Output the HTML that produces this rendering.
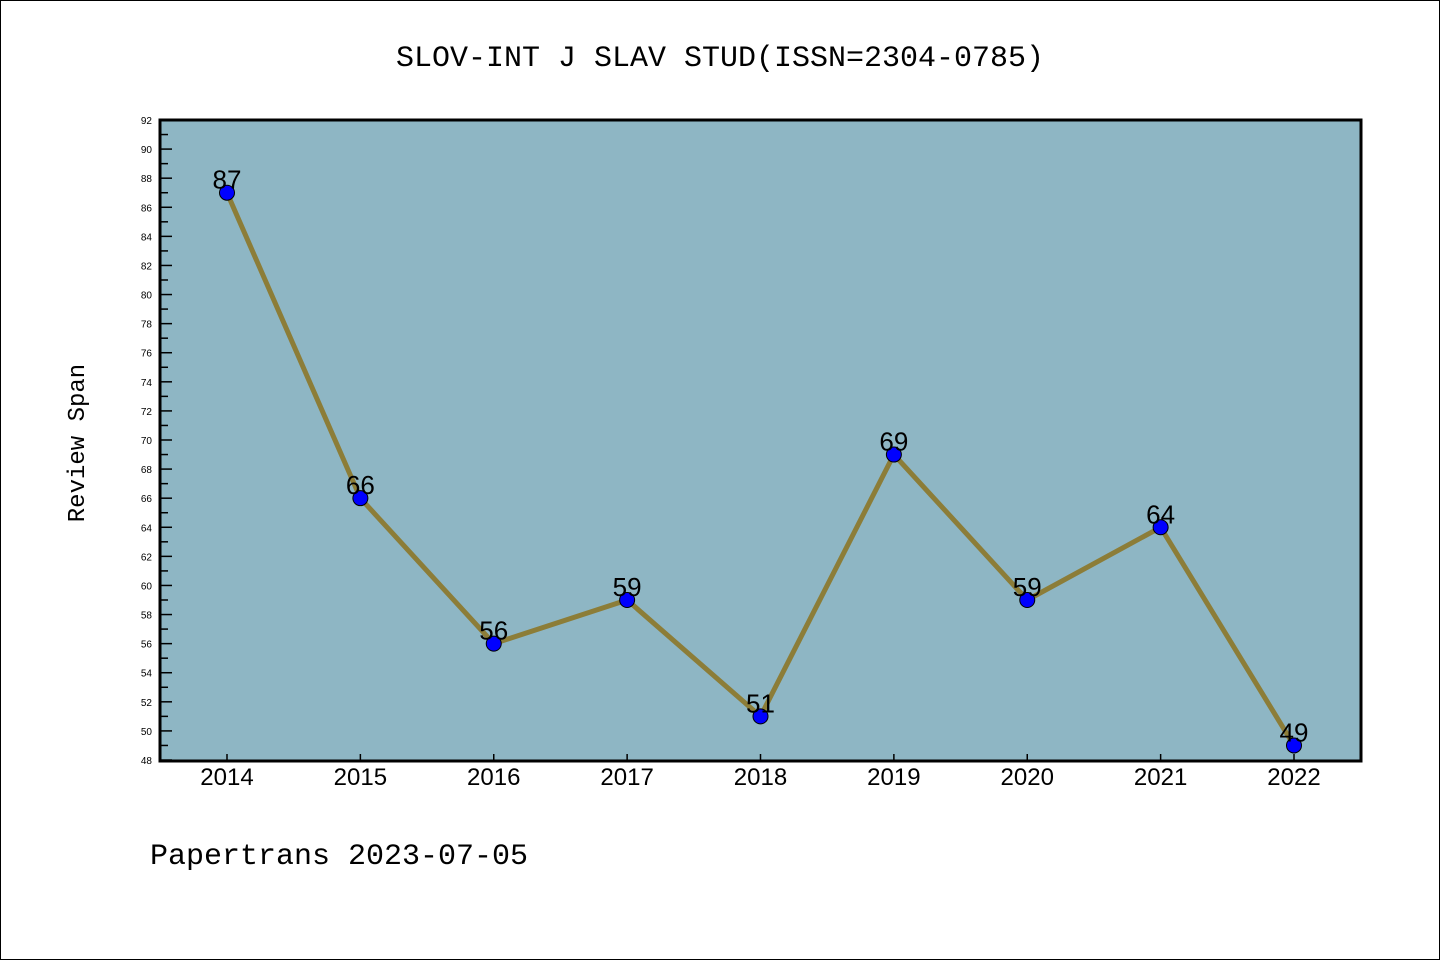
<!DOCTYPE html>
<html><head><meta charset="utf-8"><style>
body{margin:0;background:#fff;}
svg{display:block;font-family:"Liberation Mono","DejaVu Sans Mono",monospace;}
</style></head><body>
<svg width="1440" height="960">
<rect x="0.5" y="0.5" width="1439" height="959" fill="#fff" stroke="#000"/>
<text x="720" y="66" text-anchor="middle" font-size="30">SLOV-INT J SLAV STUD(ISSN=2304-0785)</text>
<rect x="160" y="120" width="1201" height="641" fill="#8eb6c4"/>
<g id="yaxis"></g><g id="xaxis"></g><g id="series"></g>
<rect x="160" y="120" width="1201" height="641" fill="none" stroke="#000" stroke-width="3"/>
<text transform="translate(84,443) rotate(-90)" text-anchor="middle" font-size="24">Review Span</text>
<text x="150" y="864" font-size="30">Papertrans 2023-07-05</text>
</svg>
<script>
const years=["2014","2015","2016","2017","2018","2019","2020","2021","2022"];
const values=[87,66,56,59,51,69,59,64,49];
const yTicks=[48,50,52,54,56,58,60,62,64,66,68,70,72,74,76,78,80,82,84,86,88,90,92];
const NS="http://www.w3.org/2000/svg";
const yMin=48,yMax=92,yTop=120,yBot=760;
function y(v){return yBot-(v-yMin)/(yMax-yMin)*(yBot-yTop);}
function x(i){return 227+i*(1294-227)/(years.length-1);}
function mk(t,a,p){const e=document.createElementNS(NS,t);for(const k in a)e.setAttribute(k,a[k]);p.appendChild(e);return e;}
const ya=document.getElementById('yaxis');
yTicks.forEach(v=>{
 const l=mk('line',{x1:160,x2:172,y1:y(v),y2:y(v),stroke:'#000','stroke-width':1.5},ya);
 
 
 const t=mk('text',{x:152,y:y(v)+4,'text-anchor':'end','font-size':10,'font-family':'Liberation Sans, sans-serif'},ya);t.textContent=v;
 
 
 if(v<yMax){const m=mk('line',{x1:160,x2:168,y1:y(v+1),y2:y(v+1),stroke:'#000','stroke-width':1.5},ya);
 
 }
});
const xa=document.getElementById('xaxis');
years.forEach((yr,i)=>{
 const l=mk('line',{x1:x(i),x2:x(i),y1:yBot,y2:yBot-6,stroke:'#000','stroke-width':1.5},xa);
 
 
 const t=mk('text',{x:x(i),y:785,'text-anchor':'middle','font-size':24,'font-family':'Liberation Sans, sans-serif'},xa);t.textContent=yr;
 
 
});
const s=document.getElementById('series');
const pl=mk('polyline',{points:values.map((v,i)=>x(i)+','+y(v)).join(' '),fill:'none',stroke:'#8c7d38','stroke-width':5,'stroke-linejoin':'round'},s);


values.forEach((v,i)=>{
 const c=mk('circle',{cx:x(i),cy:y(v),r:7.5,fill:'#0000ff',stroke:'#000','stroke-width':1},s);
 
 
 const t=mk('text',{x:x(i),y:y(v)-4,'text-anchor':'middle','font-size':26,'font-family':'Liberation Sans, sans-serif'},s);t.textContent=v;
 
 
});
</script>
</body></html>
